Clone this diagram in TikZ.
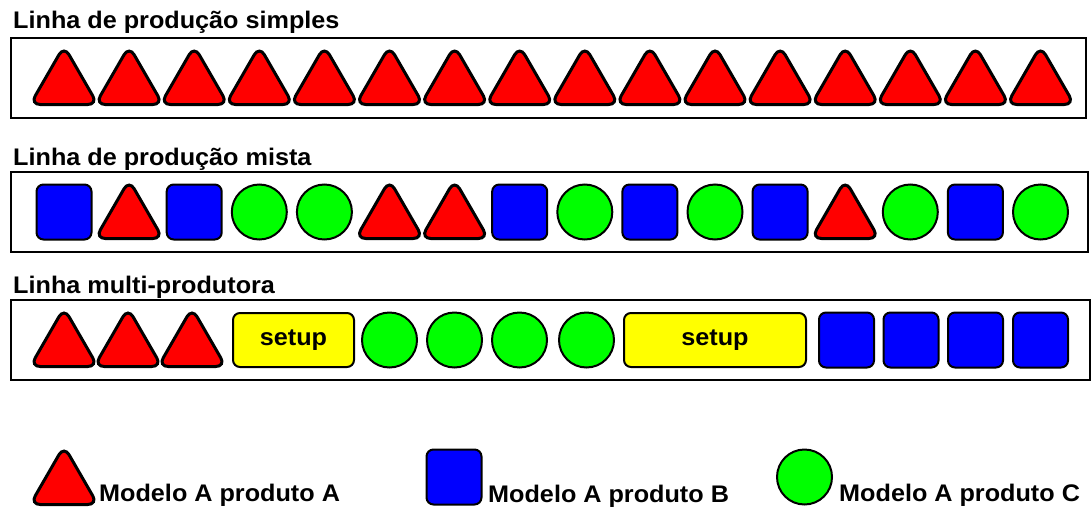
\documentclass[tikz,border=0pt]{standalone}
\usepackage{fontspec}
\setmainfont{Liberation Sans}[FakeStretch=1.05]
\usetikzlibrary{shapes.geometric}
\definecolor{prodA}{RGB}{255,0,0}
\definecolor{prodB}{RGB}{0,0,255}
\definecolor{prodC}{RGB}{0,255,0}
\definecolor{setupfill}{RGB}{255,255,0}
\begin{document}
\begin{tikzpicture}[x=1pt,y=-1pt,
  lane/.style={draw=black, line width=2pt, inner sep=0pt, minimum height=80pt},
  heading/.style={anchor=base west, inner sep=0pt, font=\fontsize{24}{28}\selectfont\bfseries},
  keytext/.style={anchor=base west, inner sep=0pt, font=\fontsize{24}{28}\selectfont\bfseries},
  tri/.style={regular polygon, regular polygon sides=3, minimum size=78pt, inner sep=0pt,
    draw=black, line width=3pt, fill=prodA, rounded corners=10pt},
  sq/.style={rectangle, minimum size=55pt, inner sep=0pt, draw=black, line width=2pt,
    fill=prodB, rounded corners=7pt},
  circ/.style={circle, minimum size=55pt, inner sep=0pt, draw=black, line width=2pt, fill=prodC},
  setupbox/.style={rectangle, minimum height=54pt, inner sep=0pt, draw=black, line width=2pt,
    fill=setupfill, rounded corners=7pt, font=\fontsize{24}{28}\selectfont\bfseries}
]
\useasboundingbox (0,0) rectangle (1091,506);

% headings
\node[heading] (h1) at (13,28.3) {Linha de produção simples};
\node[heading] (h2) at (13,165) {Linha de produção mista};
\node[heading] (h3) at (13,293.3) {Linha multi-produtora};

% lanes
\node[lane, minimum width=1075pt] (lane1) at (548.5,78) {};
\node[lane, minimum width=1077pt] (lane2) at (549.5,212) {};
\node[lane, minimum width=1079pt] (lane3) at (550.5,340) {};

% single-model line: sixteen units of product A
\foreach \i in {0,...,15}
  \node[tri] (s\i) at ({64+65.1*\i},85) {};

% mixed-model line (triangles sit a little lower: their centre is the centroid)
\foreach \kind/\dy [count=\n from 0] in
  {sq/0,tri/7,sq/0,circ/0,circ/0,tri/7,tri/7,sq/0,circ/0,sq/0,circ/0,sq/0,tri/7,circ/0,sq/0,circ/0}
  \node[\kind] (m\n) at ({64+65.1*\n},{212+\dy}) {};

% multi-model line with batch changeovers
\node[tri] (p1) at (64,347) {};
\node[tri] (p2) at (128,347) {};
\node[tri] (p3) at (192,347) {};
\node[setupbox, minimum width=121pt] (su1) at (293.5,340) {setup};
\node[circ] (p4) at (389.5,340) {};
\node[circ] (p5) at (454.5,340) {};
\node[circ] (p6) at (519.5,340) {};
\node[circ] (p7) at (586.5,340) {};
\node[setupbox, minimum width=182pt] (su2) at (715,340) {setup};
\node[sq] (p8) at (846.5,340) {};
\node[sq] (p9) at (911,340) {};
\node[sq] (p10) at (975.5,340) {};
\node[sq] (p11) at (1040.5,340) {};

% key
\node[tri] (keyA) at (64,485) {};
\node[keytext] (keyAt) at (99,501) {Modelo A produto A};
\node[sq] (keyB) at (454,477) {};
\node[keytext] (keyBt) at (488,502) {Modelo A produto B};
\node[circ] (keyC) at (804.5,477) {};
\node[keytext] (keyCt) at (839,501) {Modelo A produto C};
\end{tikzpicture}
\end{document}
